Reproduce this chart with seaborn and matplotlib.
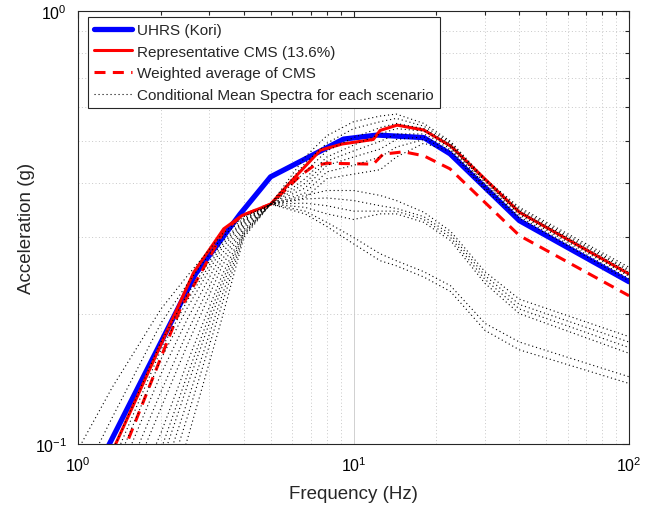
import numpy as np
import pandas as pd
import matplotlib
matplotlib.use("Agg")
import matplotlib.pyplot as plt
from matplotlib.lines import Line2D
from matplotlib.ticker import LogLocator, NullFormatter
import seaborn as sns

# ---------------- data ----------------
uhrs_f = [1.0, 1.3, 2.67, 3.88, 5.0, 9.2, 12.2, 18.0, 22.4, 40.0, 100.0]
uhrs_a = [0.072, 0.100, 0.247, 0.340, 0.414, 0.506, 0.517, 0.510, 0.468, 0.328, 0.237]

rep_f = [1.0, 1.37, 2.63, 3.38, 3.94, 5.0, 6.06, 7.58, 9.1, 11.8, 12.5, 14.4, 18.0, 22.6, 40.0, 100.0]
rep_a = [0.064, 0.100, 0.249, 0.314, 0.337, 0.358, 0.410, 0.477, 0.493, 0.505, 0.530, 0.545, 0.531, 0.487, 0.343, 0.247]

wavg_f = [1.0, 1.5, 2.35, 2.74, 3.38, 3.94, 5.0, 6.39, 7.17, 8.0, 11.8, 12.8, 15.2, 18.0, 22.4, 40.0, 100.0]
wavg_a = [0.055, 0.100, 0.205, 0.243, 0.310, 0.337, 0.358, 0.416, 0.439, 0.445, 0.443, 0.467, 0.473, 0.463, 0.432, 0.303, 0.220]

cms_f = [1.0, 1.33, 2.0, 2.5, 3.33, 4.0, 5.0, 6.67, 8.0, 10.0, 12.5, 14.3, 18.0, 22.5, 30.0, 40.0, 100.0]
cms_s1 = [0.097, 0.135, 0.205, 0.245, 0.305, 0.335, 0.358, 0.345, 0.325, 0.300, 0.275, 0.265, 0.250, 0.232, 0.190, 0.172, 0.143]
cms_s2 = [0.080, 0.115, 0.190, 0.235, 0.300, 0.333, 0.358, 0.340, 0.318, 0.290, 0.265, 0.258, 0.243, 0.225, 0.183, 0.165, 0.138]
cms_s3 = [0.065, 0.096, 0.172, 0.222, 0.292, 0.330, 0.358, 0.375, 0.385, 0.385, 0.375, 0.365, 0.343, 0.310, 0.250, 0.216, 0.177]
cms_s4 = [0.060, 0.090, 0.165, 0.215, 0.288, 0.328, 0.358, 0.368, 0.370, 0.365, 0.355, 0.350, 0.335, 0.305, 0.245, 0.210, 0.172]
cms_s5 = [0.055, 0.085, 0.157, 0.207, 0.283, 0.326, 0.358, 0.360, 0.355, 0.345, 0.345, 0.345, 0.330, 0.300, 0.240, 0.205, 0.167]
cms_s6 = [0.050, 0.078, 0.145, 0.195, 0.275, 0.323, 0.358, 0.352, 0.340, 0.330, 0.340, 0.340, 0.325, 0.295, 0.235, 0.200, 0.162]
cms_s7 = [0.045, 0.071, 0.132, 0.182, 0.266, 0.320, 0.358, 0.370, 0.410, 0.420, 0.430, 0.460, 0.495, 0.474, 0.386, 0.332, 0.238]
cms_s8 = [0.041, 0.065, 0.121, 0.170, 0.257, 0.317, 0.358, 0.380, 0.425, 0.440, 0.460, 0.485, 0.505, 0.478, 0.390, 0.335, 0.241]
cms_s9 = [0.037, 0.058, 0.106, 0.155, 0.245, 0.313, 0.358, 0.390, 0.440, 0.460, 0.480, 0.505, 0.512, 0.482, 0.393, 0.338, 0.244]
cms_s10 = [0.034, 0.053, 0.097, 0.145, 0.237, 0.310, 0.358, 0.400, 0.450, 0.475, 0.500, 0.520, 0.520, 0.486, 0.397, 0.341, 0.246]
cms_s11 = [0.032, 0.050, 0.090, 0.137, 0.230, 0.308, 0.358, 0.410, 0.460, 0.490, 0.520, 0.535, 0.528, 0.490, 0.400, 0.344, 0.249]
cms_s12 = [0.030, 0.046, 0.082, 0.126, 0.220, 0.305, 0.358, 0.425, 0.475, 0.510, 0.538, 0.550, 0.535, 0.493, 0.404, 0.346, 0.251]
cms_s13 = [0.028, 0.042, 0.074, 0.116, 0.210, 0.303, 0.358, 0.445, 0.495, 0.535, 0.555, 0.565, 0.542, 0.497, 0.407, 0.349, 0.253]
cms_s14 = [0.025, 0.037, 0.064, 0.103, 0.195, 0.300, 0.358, 0.460, 0.515, 0.555, 0.572, 0.578, 0.550, 0.500, 0.410, 0.352, 0.256]
cms_all = [cms_s1, cms_s2, cms_s3, cms_s4, cms_s5, cms_s6, cms_s7,
           cms_s8, cms_s9, cms_s10, cms_s11, cms_s12, cms_s13, cms_s14]

legend_labels = ["UHRS (Kori)", "Representative CMS (13.6%)",
                 "Weighted average of CMS", "Conditional Mean Spectra for each scenario"]
x_label = "Frequency (Hz)"
y_label = "Acceleration (g)"

# ---------------- style ----------------
sns.set_style("white")
plt.rcParams["font.family"] = ["Liberation Sans", "DejaVu Sans"]
plt.rcParams["mathtext.fontset"] = "custom"
plt.rcParams["mathtext.rm"] = "Liberation Sans"
plt.rcParams["mathtext.it"] = "Liberation Sans:italic"
plt.rcParams["mathtext.bf"] = "Liberation Sans:bold"

fig = plt.figure(figsize=(6.58, 5.06), dpi=100)
ax = fig.add_axes([78 / 658, 1 - 445 / 506, (629 - 78) / 658, (445 - 12) / 506])

ax.set_xscale("log")
ax.set_yscale("log")

# grid
ax.xaxis.set_major_locator(LogLocator(base=10, numticks=10))
ax.xaxis.set_minor_locator(LogLocator(base=10, subs=np.arange(2, 10), numticks=20))
ax.yaxis.set_major_locator(LogLocator(base=10, numticks=10))
ax.yaxis.set_minor_locator(LogLocator(base=10, subs=np.arange(2, 10), numticks=20))
ax.xaxis.set_minor_formatter(NullFormatter())
ax.yaxis.set_minor_formatter(NullFormatter())
ax.grid(which="major", color="#d0d0d0", linestyle="-", linewidth=0.7)
ax.grid(which="minor", color="#c8c8c8", linestyle=(0, (1, 2.5)), linewidth=0.7)
ax.set_axisbelow(True)

lw_blue = 3.8
lw_red = 2.2
sns.lineplot(x=uhrs_f, y=uhrs_a, ax=ax, color="#0000ff", linewidth=lw_blue,
             sort=False, estimator=None, zorder=3)
sns.lineplot(x=rep_f, y=rep_a, ax=ax, color="#ff0000", linewidth=lw_red,
             sort=False, estimator=None, zorder=4)
sns.lineplot(x=wavg_f, y=wavg_a, ax=ax, color="#ff0000", linewidth=lw_red,
             sort=False, estimator=None, zorder=5)
ax.lines[-1].set_dashes((3.6, 2.4))
for s in cms_all:
    sns.lineplot(x=cms_f, y=s, ax=ax, color="black", linewidth=0.8,
                 sort=False, estimator=None, zorder=6)
    ax.lines[-1].set_linestyle((0, (1, 2.6)))

ax.set_xlim(1, 100)
ax.set_ylim(0.1, 1)

for sp in ax.spines.values():
    sp.set_color("#262626")
    sp.set_linewidth(0.8)
ax.tick_params(which="both", direction="in", top=True, right=True,
               colors="#262626", labelsize=11.5)
ax.tick_params(which="major", length=5, width=0.8, pad=8)
ax.tick_params(which="minor", length=3, width=0.8)
for t in ax.get_xticklabels() + ax.get_yticklabels():
    t.set_color("black")

ax.set_xlabel(x_label, fontsize=13.5, labelpad=8)
ax.set_ylabel(y_label, fontsize=13.5)
ax.yaxis.set_label_coords(-0.078, 0.5)

handles = [
    Line2D([], [], color="#0000ff", linewidth=lw_blue),
    Line2D([], [], color="#ff0000", linewidth=lw_red),
    Line2D([], [], color="#ff0000", linewidth=lw_red, dashes=(3.6, 2.4)),
    Line2D([], [], color="black", linewidth=0.8, linestyle=(0, (1, 2.6))),
]
leg = ax.legend(handles, legend_labels, loc="upper left",
                bbox_to_anchor=(10 / 551, 1 - 6 / 433), fontsize=11,
                frameon=True, fancybox=False, edgecolor="#262626",
                framealpha=1, borderpad=0.4, labelspacing=0.5,
                handlelength=2.45, handletextpad=0.35, borderaxespad=0)
leg.get_frame().set_linewidth(0.8)
leg.set_zorder(10)

fig.savefig("out.png", dpi=100)
